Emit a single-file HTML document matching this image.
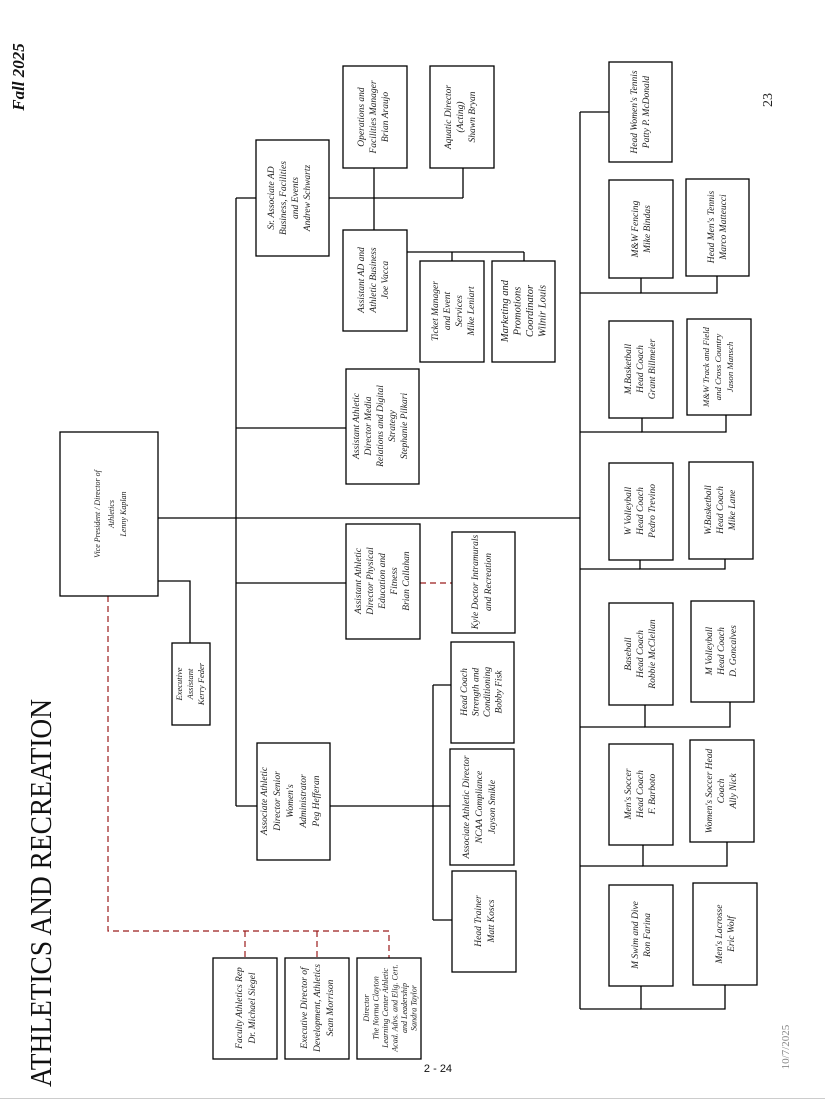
<!DOCTYPE html>
<html><head><meta charset="utf-8"><style>
html,body{margin:0;padding:0;background:#fff;}
svg{display:block;}
.b{fill:#fff;stroke:#000;stroke-width:1.3;}
.l{stroke:#000;stroke-width:1.3;fill:none;}
.d{stroke:#9b1c1c;stroke-width:1.2;fill:none;stroke-dasharray:6,4;}
text.t{font-family:"Liberation Serif",serif;font-style:italic;font-size:9.5px;fill:#222;text-anchor:middle;}
</style></head><body>
<svg width="825" height="1100" viewBox="0 0 825 1100" xmlns="http://www.w3.org/2000/svg">
<g class="l">
<line x1="236" y1="198" x2="236" y2="806"/>
<line x1="580" y1="112" x2="580" y2="1009"/>
<line x1="158" y1="518" x2="580" y2="518"/>
<polyline points="158,581 190,581 190,643"/>
<line x1="236" y1="198" x2="256" y2="198"/>
<line x1="329" y1="198" x2="463" y2="198"/>
<line x1="463" y1="168" x2="463" y2="198"/>
<line x1="374" y1="168" x2="374" y2="230"/>
<line x1="407" y1="252" x2="524" y2="252"/>
<line x1="452" y1="252" x2="452" y2="261"/>
<line x1="524" y1="252" x2="524" y2="261"/>
<line x1="236" y1="428" x2="346" y2="428"/>
<line x1="236" y1="583" x2="346" y2="583"/>
<line x1="236" y1="806" x2="257" y2="806"/>
<line x1="330" y1="806" x2="450" y2="806"/>
<line x1="433" y1="685" x2="433" y2="920"/>
<line x1="433" y1="685" x2="451" y2="685"/>
<line x1="433" y1="920" x2="452" y2="920"/>
<line x1="580" y1="112" x2="609" y2="112"/>
<polyline points="641,278 641,293 717,293 717,276"/><line x1="580" y1="293" x2="641" y2="293"/>
<polyline points="642,418 642,432 726,432 726,415"/><line x1="580" y1="432" x2="642" y2="432"/>
<polyline points="640,560 640,569 725,569 725,559"/><line x1="580" y1="569" x2="640" y2="569"/>
<polyline points="645,705 645,727 730,727 730,702"/><line x1="580" y1="727" x2="645" y2="727"/>
<polyline points="643,845 643,866 727,866 727,842"/><line x1="580" y1="866" x2="643" y2="866"/>
<polyline points="641,986 641,1009 725,1009 725,985"/><line x1="580" y1="1009" x2="641" y2="1009"/>
</g>
<g class="d">
<line x1="420" y1="583" x2="452" y2="583"/>
<polyline points="108,596 108,931 389,931 389,958"/>
<line x1="245" y1="931" x2="245" y2="958"/>
<line x1="317" y1="931" x2="317" y2="958"/>
</g>
<g class="b">
<rect x="60" y="432" width="98" height="164"/>
<rect x="172" y="643" width="38" height="82"/>
<rect x="257" y="743" width="73" height="117"/>
<rect x="451" y="642" width="63" height="101"/>
<rect x="450" y="749" width="64" height="116"/>
<rect x="452" y="871" width="64" height="101"/>
<rect x="213" y="958" width="64" height="101"/>
<rect x="285" y="958" width="64" height="101"/>
<rect x="357" y="958" width="64" height="101"/>
<rect x="346" y="524" width="74" height="115"/>
<rect x="452" y="532" width="63" height="101"/>
<rect x="346" y="369" width="73" height="115"/>
<rect x="256" y="140" width="73" height="116"/>
<rect x="343" y="66" width="64" height="102"/>
<rect x="430" y="66" width="64" height="102"/>
<rect x="343" y="230" width="64" height="101"/>
<rect x="420" y="261" width="64" height="101"/>
<rect x="492" y="261" width="63" height="101"/>
<rect x="609" y="62" width="63" height="100"/>
<rect x="609" y="180" width="64" height="98"/>
<rect x="686" y="179" width="63" height="97"/>
<rect x="609" y="321" width="64" height="97"/>
<rect x="687" y="319" width="64" height="96"/>
<rect x="609" y="463" width="64" height="97"/>
<rect x="689" y="462" width="64" height="97"/>
<rect x="609" y="603" width="64" height="102"/>
<rect x="691" y="601" width="63" height="101"/>
<rect x="609" y="744" width="64" height="101"/>
<rect x="690" y="740" width="64" height="102"/>
<rect x="609" y="885" width="64" height="101"/>
<rect x="693" y="883" width="64" height="102"/>
</g>
<text class="t" style="font-size:8px" transform="rotate(-90 114 514)" x="114" y="500"><tspan x="114">Vice President / Director of</tspan><tspan x="114" dy="14">Athletics</tspan><tspan x="114" dy="12">Lenny Kaplan</tspan></text>
<text class="t" style="font-size:8.5px" transform="rotate(-90 191 684)" x="191" y="675"><tspan x="191">Executive</tspan><tspan x="191" dy="11">Assistant</tspan><tspan x="191" dy="11">Kerry Feder</tspan></text>
<text class="t" transform="rotate(-90 294 801)" x="294" y="774"><tspan x="294">Associate Athletic</tspan><tspan x="294" dy="13">Director Senior</tspan><tspan x="294" dy="13">Women's</tspan><tspan x="294" dy="13">Administrator</tspan><tspan x="294" dy="13">Peg Hefferan</tspan></text>
<text class="t" transform="rotate(-90 482 692)" x="482" y="677"><tspan x="482">Head Coach</tspan><tspan x="482" dy="11.5">Strength and</tspan><tspan x="482" dy="11.5">Conditioning</tspan><tspan x="482" dy="11.5">Bobby Fisk</tspan></text>
<text class="t" transform="rotate(-90 482 807)" x="482" y="794"><tspan x="482">Associate Athletic Director</tspan><tspan x="482" dy="13">NCAA Compliance</tspan><tspan x="482" dy="13">Jayson Smikle</tspan></text>
<text class="t" transform="rotate(-90 484 921)" x="484" y="918"><tspan x="484">Head Trainer</tspan><tspan x="484" dy="13">Matt Koscs</tspan></text>
<text class="t" transform="rotate(-90 245 1008)" x="245" y="1005"><tspan x="245">Faculty Athletics Rep</tspan><tspan x="245" dy="13">Dr. Michael Siegel</tspan></text>
<text class="t" transform="rotate(-90 317 1008)" x="317" y="998"><tspan x="317">Executive Director of</tspan><tspan x="317" dy="13">Development, Athletics</tspan><tspan x="317" dy="13">Sean Morrison</tspan></text>
<text class="t" style="font-size:8px" transform="rotate(-90 389 1008)" x="389" y="988"><tspan x="389">Director</tspan><tspan x="389" dy="9.5">The Norma Clayton</tspan><tspan x="389" dy="9.5">Learning Center Athletic</tspan><tspan x="389" dy="9.5">Acad. Advs. and Elig. Cert.</tspan><tspan x="389" dy="9.5">and Leadership</tspan><tspan x="389" dy="9.5">Sandra Taylor</tspan></text>
<text class="t" transform="rotate(-90 383 581)" x="383" y="559"><tspan x="383">Assistant Athletic</tspan><tspan x="383" dy="12">Director Physical</tspan><tspan x="383" dy="12">Education and</tspan><tspan x="383" dy="12">Fitness</tspan><tspan x="383" dy="12">Brian Callahan</tspan></text>
<text class="t" transform="rotate(-90 483 582)" x="483" y="577"><tspan x="483">Kyle Doctor Intramurals</tspan><tspan x="483" dy="13">and Recreation</tspan></text>
<text class="t" transform="rotate(-90 382 426)" x="382" y="403"><tspan x="382">Assistant Athletic</tspan><tspan x="382" dy="12">Director Media</tspan><tspan x="382" dy="12">Relations and Digital</tspan><tspan x="382" dy="12">Strategy</tspan><tspan x="382" dy="12">Stephanie Pilkari</tspan></text>
<text class="t" transform="rotate(-90 292 198)" x="292" y="180"><tspan x="292">Sr. Associate AD</tspan><tspan x="292" dy="12">Business, Facilities</tspan><tspan x="292" dy="12">and Events</tspan><tspan x="292" dy="12">Andrew Schwartz</tspan></text>
<text class="t" transform="rotate(-90 375 117)" x="375" y="106"><tspan x="375">Operations and</tspan><tspan x="375" dy="12">Facilities Manager</tspan><tspan x="375" dy="12">Brian Araujo</tspan></text>
<text class="t" transform="rotate(-90 462 117)" x="462" y="106"><tspan x="462">Aquatic Director</tspan><tspan x="462" dy="12">(Acting)</tspan><tspan x="462" dy="12">Shawn Bryan</tspan></text>
<text class="t" transform="rotate(-90 375 280)" x="375" y="269"><tspan x="375">Assistant AD and</tspan><tspan x="375" dy="12">Athletic Business</tspan><tspan x="375" dy="12">Joe Vacca</tspan></text>
<text class="t" transform="rotate(-90 452 311)" x="452" y="297"><tspan x="452">Ticket Manager</tspan><tspan x="452" dy="12">and Event</tspan><tspan x="452" dy="12">Services</tspan><tspan x="452" dy="12">Mike Leniart</tspan></text>
<text class="t" style="font-size:10.5px" transform="rotate(-90 523 311)" x="523" y="296"><tspan x="523">Marketing and</tspan><tspan x="523" dy="12.5">Promotions</tspan><tspan x="523" dy="12.5">Coordinator</tspan><tspan x="523" dy="12.5">Wilnir Louis</tspan></text>
<text class="t" transform="rotate(-90 640 112)" x="640" y="109"><tspan x="640">Head Women's Tennis</tspan><tspan x="640" dy="12">Patty P. McDonald</tspan></text>
<text class="t" transform="rotate(-90 641 229)" x="641" y="226"><tspan x="641">M&amp;W Fencing</tspan><tspan x="641" dy="12">Mike Bindas</tspan></text>
<text class="t" transform="rotate(-90 717 227)" x="717" y="224"><tspan x="717">Head Men's Tennis</tspan><tspan x="717" dy="12">Marco Matteucci</tspan></text>
<text class="t" transform="rotate(-90 641 369)" x="641" y="359"><tspan x="641">M.Basketball</tspan><tspan x="641" dy="12">Head Coach</tspan><tspan x="641" dy="12">Grant Billmeier</tspan></text>
<text class="t" style="font-size:8.8px" transform="rotate(-90 719 367)" x="719" y="357"><tspan x="719">M&amp;W Track and Field</tspan><tspan x="719" dy="12">and Cross Country</tspan><tspan x="719" dy="12">Jason Mansch</tspan></text>
<text class="t" transform="rotate(-90 641 511)" x="641" y="501"><tspan x="641">W Volleyball</tspan><tspan x="641" dy="12">Head Coach</tspan><tspan x="641" dy="12">Pedro Trevino</tspan></text>
<text class="t" transform="rotate(-90 721 510)" x="721" y="500"><tspan x="721">W.Basketball</tspan><tspan x="721" dy="12">Head Coach</tspan><tspan x="721" dy="12">Mike Lane</tspan></text>
<text class="t" transform="rotate(-90 641 654)" x="641" y="644"><tspan x="641">Baseball</tspan><tspan x="641" dy="12">Head Coach</tspan><tspan x="641" dy="12">Robbie McClellan</tspan></text>
<text class="t" transform="rotate(-90 722 651)" x="722" y="641"><tspan x="722">M Volleyball</tspan><tspan x="722" dy="12">Head Coach</tspan><tspan x="722" dy="12">D. Goncalves</tspan></text>
<text class="t" transform="rotate(-90 641 794)" x="641" y="784"><tspan x="641">Men's Soccer</tspan><tspan x="641" dy="12">Head Coach</tspan><tspan x="641" dy="12">F. Barboto</tspan></text>
<text class="t" transform="rotate(-90 722 791)" x="722" y="781"><tspan x="722">Women's Soccer Head</tspan><tspan x="722" dy="12">Coach</tspan><tspan x="722" dy="12">Ally Nick</tspan></text>
<text class="t" transform="rotate(-90 641 935)" x="641" y="932"><tspan x="641">M Swim and Dive</tspan><tspan x="641" dy="12">Ron Farina</tspan></text>
<text class="t" transform="rotate(-90 725 934)" x="725" y="931"><tspan x="725">Men's Lacrosse</tspan><tspan x="725" dy="12">Eric Wolf</tspan></text>
<text transform="rotate(-90 40 893)" x="40" y="904" text-anchor="middle" textLength="388" lengthAdjust="spacingAndGlyphs" style="font-family:'Liberation Serif',serif;font-size:31px;fill:#111;">ATHLETICS AND RECREATION</text>
<text transform="rotate(-90 18 77)" x="18" y="83" text-anchor="middle" style="font-family:'Liberation Serif',serif;font-size:17px;font-weight:bold;font-style:italic;fill:#111;">Fall 2025</text>
<text transform="rotate(-90 767 100)" x="767" y="105" text-anchor="middle" style="font-family:'Liberation Serif',serif;font-size:14px;fill:#222;">23</text>
<text transform="rotate(-90 785 1047)" x="785" y="1051" text-anchor="middle" style="font-family:'Liberation Serif',serif;font-size:11px;fill:#888;">10/7/2025</text>
<text x="438" y="1072" text-anchor="middle" style="font-family:'Liberation Sans',sans-serif;font-size:11px;fill:#111;">2 - 24</text>
<line x1="0" y1="1098.5" x2="825" y2="1098.5" stroke="#ccc" stroke-width="1"/>
</svg>
</body></html>
